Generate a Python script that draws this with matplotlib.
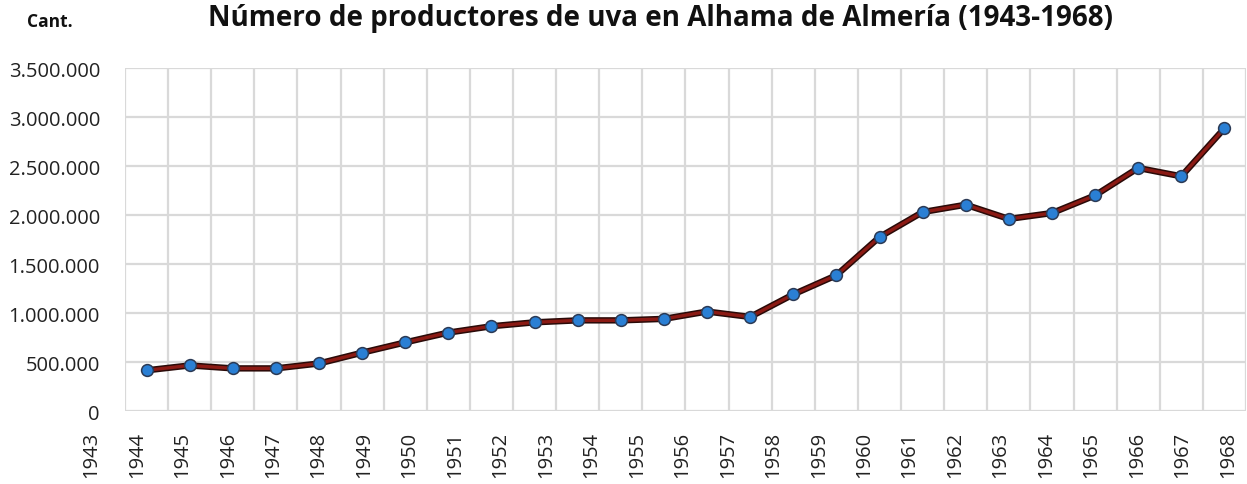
import numpy as np
import matplotlib
matplotlib.use('Agg')
from matplotlib import pyplot as plt
from matplotlib import transforms

# Data
years = list(range(1943, 1969))
producers = [415000, 465000, 435000, 435000, 485000, 595000, 700000, 800000,
             865000, 905000, 925000, 925000, 940000, 1015000, 960000, 1190000,
             1385000, 1775000, 2030000, 2105000, 1960000, 2020000, 2200000,
             2480000, 2395000, 2885000]
y_ticks = [0, 500000, 1000000, 1500000, 2000000, 2500000, 3000000, 3500000]

plt.rcParams['font.family'] = ['Open Sans', 'DejaVu Sans']

fig = plt.figure(figsize=(12.47, 4.85), dpi=100)
ax = fig.add_axes([0.1002, 0.1505, 0.899, 0.7072])

x = np.arange(len(years))

# Line with a dark outline and markers
ax.plot(x, producers, color='#2a0a08', lw=4.6, zorder=3, solid_joinstyle='round')
ax.plot(x, producers, color='#8b1a14', lw=2.4, zorder=4, solid_joinstyle='round')
ax.plot(x, producers, ls='none', marker='o', ms=8.5, mfc='#2a7fd4',
        mec='#2b3a55', mew=1.1, zorder=5)

# Grid
ax.set_xlim(-0.5, len(years) - 0.5)
ax.set_ylim(0, 3500000)
ax.set_xticks(np.arange(-0.5, len(years)))
ax.set_yticks(y_ticks)
ax.grid(True, color='#d9d9d9', lw=1.6)
ax.set_axisbelow(True)
for s in ax.spines.values():
    s.set_visible(False)
ax.tick_params(axis='both', length=0)
ax.set_xticklabels([])
ax.set_yticklabels([f'{v:,}'.replace(',', '.') for v in y_ticks],
                   fontsize=14.5, color='#222222')
ax.tick_params(axis='y', pad=18)

# Year labels (shifted slightly relative to the category grid, as in the source)
trans = transforms.blended_transform_factory(ax.transData, ax.transAxes)
label_pos = np.linspace(-1.28, 25.08, len(years))
for pos, yr in zip(label_pos, years):
    ax.text(pos, -0.058, str(yr), rotation=90, ha='center', va='top',
            fontsize=14.5, color='#222222', transform=trans, clip_on=False)

fig.text(0.53, 0.962, 'Número de productores de uva en Alhama de Almería (1943-1968)',
         ha='center', va='center', fontsize=20, fontweight='bold', color='#111111')
fig.text(0.022, 0.955, 'Cant.', ha='left', va='center', fontsize=12.5,
         fontweight='bold', color='#111111')

fig.savefig('out.png', dpi=100)
